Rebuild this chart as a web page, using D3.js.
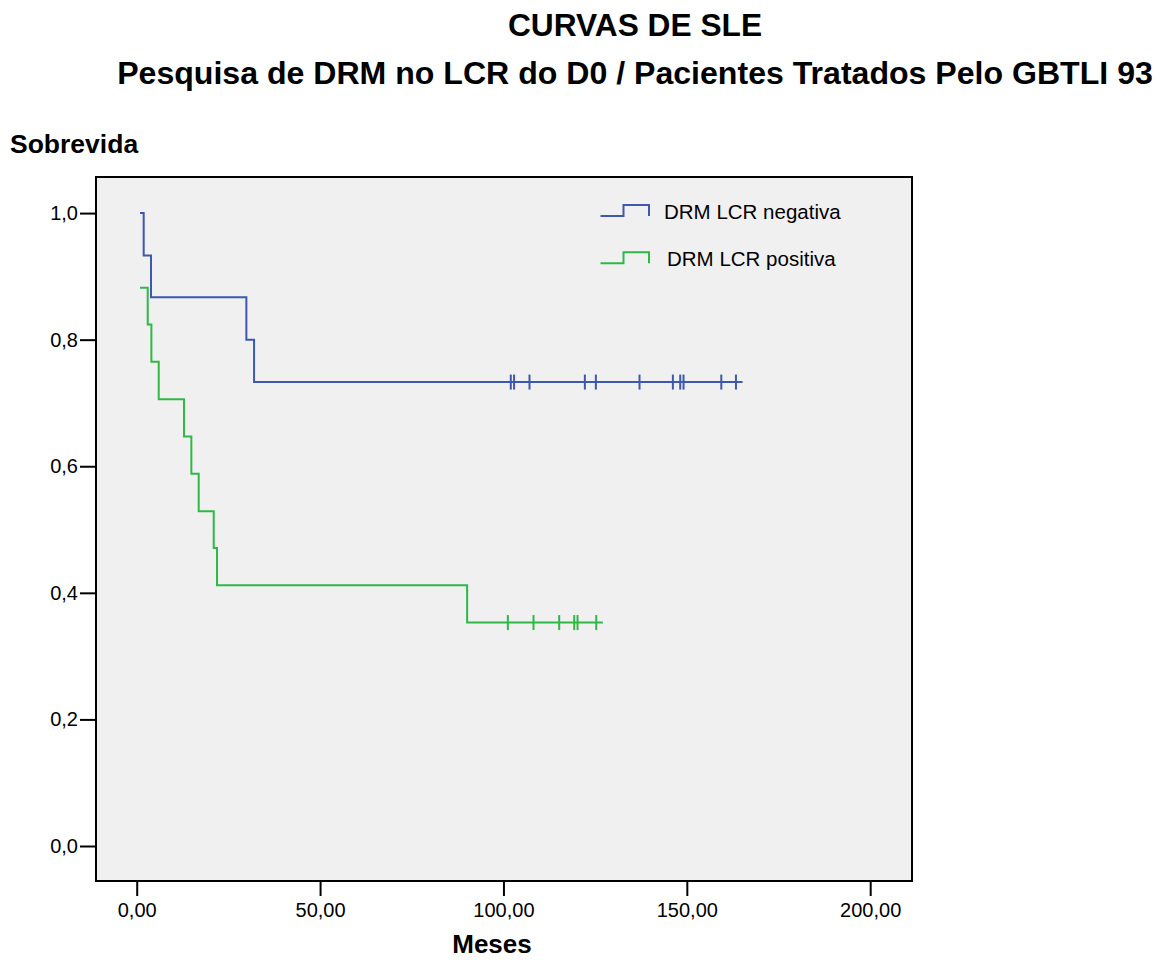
<!DOCTYPE html>
<html><head><meta charset="utf-8">
<script src="https://cdn.jsdelivr.net/npm/d3@7/dist/d3.min.js"></script>
<style>body{margin:0;background:#fff;font-family:"Liberation Sans",Arial,sans-serif;}</style>
</head><body><svg id="c" width="1166" height="961"></svg>
<script>
const titles = ["CURVAS DE SLE", "Pesquisa de DRM no LCR do D0 / Pacientes Tratados Pelo GBTLI 93"];
const yTicks = [0, 0.2, 0.4, 0.6, 0.8, 1.0];
const xTicks = [0, 50, 100, 150, 200];
const groups = ["DRM LCR negativa", "DRM LCR positiva"];
const colors = ["#3E58AC", "#2EB846"];
// step points: time (months), survival
const negTimes = [0.9, 1.9, 3.9, 29.9, 32.0, 165.2];
const negSurv  = [1.000, 0.933, 0.867, 0.800, 0.733, 0.733];
const negCensor = [102.0, 102.9, 107.1, 122.2, 125.2, 137.1, 146.2, 148.2, 149.1, 159.4, 163.4];
const posTimes = [0.9, 3.0, 4.0, 6.0, 12.9, 14.9, 16.9, 21.0, 21.9, 90.1, 127.1];
const posSurv  = [0.882, 0.824, 0.765, 0.706, 0.647, 0.588, 0.529, 0.471, 0.412, 0.353, 0.353];
const posCensor = [101.2, 108.2, 115.2, 119.3, 120.2, 125.3];

const FONT = "'Liberation Sans', Arial, sans-serif";
const svg = d3.select("#c").attr("font-family", FONT);
const L = 96, R = 912, T = 177, B = 881;
const x = d3.scaleLinear().domain([-11.1, 211.4]).range([L, R]);
const y = d3.scaleLinear().domain([-0.0553, 1.057]).range([B, T]);

svg.append("text").attr("x", 635).attr("y", 36).attr("text-anchor", "middle")
  .attr("font-weight", "bold").attr("font-size", 31.7).text(titles[0]);
svg.append("text").attr("x", 635).attr("y", 84).attr("text-anchor", "middle")
  .attr("font-weight", "bold").attr("font-size", 32.1).text(titles[1]);

svg.append("rect").attr("x", L).attr("y", T).attr("width", R - L).attr("height", B - T)
  .attr("fill", "#f0f0f0").attr("stroke", "#000").attr("stroke-width", 2);

const yAxis = svg.append("g").attr("transform", `translate(${L},0)`)
  .call(d3.axisLeft(y).tickValues(yTicks).tickSize(16).tickPadding(2)
    .tickFormat(d => d3.format(".1f")(d).replace(".", ",")));
const xAxis = svg.append("g").attr("transform", `translate(0,${B})`)
  .call(d3.axisBottom(x).tickValues(xTicks).tickSize(15).tickPadding(7)
    .tickFormat(d => d3.format(".2f")(d).replace(".", ",")));
[yAxis, xAxis].forEach(a => {
  a.select(".domain").remove();
  a.selectAll(".tick line").attr("stroke", "#000").attr("stroke-width", 2);
  a.selectAll("text").attr("font-size", 20).attr("font-family", FONT).attr("fill", "#000");
});

svg.append("text").attr("x", 10).attr("y", 153).attr("font-weight", "bold").attr("font-size", 26.5).text("Sobrevida");
svg.append("text").attr("x", 492).attr("y", 953).attr("text-anchor", "middle").attr("font-weight", "bold").attr("font-size", 26).text("Meses");

const line = d3.line().x(d => x(d[0])).y(d => y(d[1])).curve(d3.curveStepAfter);
const series = [
  {t: negTimes, s: negSurv, c: negCensor},
  {t: posTimes, s: posSurv, c: posCensor}
];
series.forEach((g, i) => {
  const pts = g.t.map((t, k) => [t, g.s[k]]);
  svg.append("path").attr("d", line(pts)).attr("fill", "none")
    .attr("stroke", colors[i]).attr("stroke-width", 2);
  const survAt = t => { let v = g.s[0]; g.t.forEach((tt, k) => { if (tt <= t) v = g.s[k]; }); return v; };
  svg.selectAll(null).data(g.c).enter().append("line")
    .attr("x1", d => x(d)).attr("x2", d => x(d))
    .attr("y1", d => y(survAt(d)) - 7.5).attr("y2", d => y(survAt(d)) + 7.5)
    .attr("stroke", colors[i]).attr("stroke-width", 2);
});

// legend
groups.forEach((g, i) => {
  const yb = 216 + i * 47.3, yt = yb - 11;
  svg.append("path").attr("d", `M600.5,${yb}H623.5V${yt}H649V${yb}`)
    .attr("fill", "none").attr("stroke", colors[i]).attr("stroke-width", 2);
  svg.append("text").attr("x", 664 + i * 3).attr("y", 219 + i * 47).attr("font-size", 20.5).text(g);
});
</script></body></html>
